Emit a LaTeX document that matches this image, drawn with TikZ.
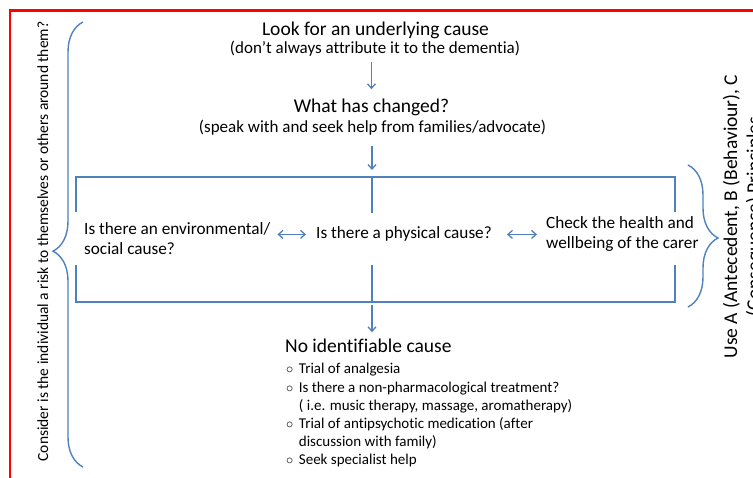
\documentclass[tikz,border=0pt]{standalone}
\usepackage{fontspec}
\setmainfont[Ligatures=NoCommon]{Carlito}
\usepackage{xcolor}
\usepackage{tikz}
\usetikzlibrary{arrows.meta,decorations.pathreplacing}
\definecolor{linkblue}{RGB}{79,129,189}
\definecolor{framered}{RGB}{255,0,0}

\begin{document}
\begin{tikzpicture}[
    x=1pt, y=1pt,
    head/.style={inner sep=0pt, font=\fontsize{19.5}{23}\selectfont},
    sub/.style={inner sep=0pt, font=\fontsize{17}{20}\selectfont},
    cause/.style={inner sep=0pt, align=left, font=\fontsize{17.2}{20.5}\selectfont},
    listbox/.style={inner sep=0pt, font=\fontsize{15}{18.2}\selectfont},
    side/.style={inner sep=0pt, rotate=90, font=\fontsize{15.5}{19}\selectfont},
    arr/.style={-{Straight Barb[length=4.5pt,width=8pt]}, draw=linkblue, line width=1.3pt},
    dbl/.style={{Straight Barb[length=4.5pt,width=8pt]}-{Straight Barb[length=4.5pt,width=8pt]}, draw=linkblue, line width=1.3pt},
    frame/.style={draw=linkblue, line width=2.5pt},
    curly/.style={draw=linkblue, line width=1.4pt, decorate}
]
\clip (0,0) rectangle (753,-478);
\draw[framered, line width=2.3pt] (10,-490) |- (770,-10.5);

\node[head, anchor=base] (look) at (375.5,-36) {Look for an underlying cause};
\node[sub, anchor=base] (dontblame) at (375,-54) {(don’t always attribute it to the dementia)};
\node[head, anchor=base] (changed) at (371.5,-113) {What has changed?};
\node[sub, anchor=base] (speak) at (372.5,-133) {(speak with and seek help from families/advocate)};

\coordinate (topmid) at (372,-177);
\coordinate (botmid) at (372,-302);
\draw[frame] (76,-212) |- (675,-177) -- (675,-212);
\draw[frame] (76,-265) |- (675,-302) -- (675,-265);
\draw[frame] (topmid) -- ++(0,-36);
\draw[frame] (botmid) -- ++(0,37);

\node[cause, anchor=base west] (envcause) at (84,-255) {Is there an environmental/\\social cause?};
\node[cause, anchor=base west] (physcause) at (316,-239) {Is there a physical cause?};
\node[cause, anchor=base west] (carer) at (546,-249) {Check the health and\\wellbeing of the carer};

\node[head, anchor=base west] (noid) at (285,-353) {No identifiable cause};
\node[listbox, anchor=base west] (options) at (286,-374) {\begin{tabular}[t]{@{}l@{\hspace{5.5pt}}l@{}}
$\circ$ & Trial of analgesia\\
$\circ$ & Is there a non-pharmacological treatment?\\
 & ( i.e. music therapy, massage, aromatherapy)\\
$\circ$ & Trial of antipsychotic medication (after\\
 & discussion with family)\\
$\circ$ & Seek specialist help
\end{tabular}};

\node[side, anchor=base] (risk) at (48,-241.5) {Consider is the individual a risk to themselves or others around them?};
\node[head, rotate=90, align=center, anchor=base] (abc) at (760,-216.5) {Use A (Antecedent, B (Behaviour), C\\(Consequence) Principles};

\draw[arr, shorten <=5.5pt, shorten >=10pt] (dontblame.south -| changed.north) -- (changed.north);
\draw[arr, shorten <=9.7pt, shorten >=7pt] (speak.south -| topmid) -- (topmid);
\draw[arr, shorten <=3pt, shorten >=7pt] (botmid) -- (botmid |- noid.north);
\draw[dbl, shorten <=7pt, shorten >=10pt] (envcause.east |- physcause.west) -- (physcause.west);
\draw[dbl, shorten <=15pt, shorten >=9pt] (physcause.east) -- (physcause.east -| carer.west);

\draw[curly, decoration={brace, amplitude=30pt, aspect=0.485}] (83,-467) -- (83,-22);
\draw[curly, decoration={brace, amplitude=30pt, aspect=0.514}] (688,-165) -- (688,-307);
\end{tikzpicture}
\end{document}
